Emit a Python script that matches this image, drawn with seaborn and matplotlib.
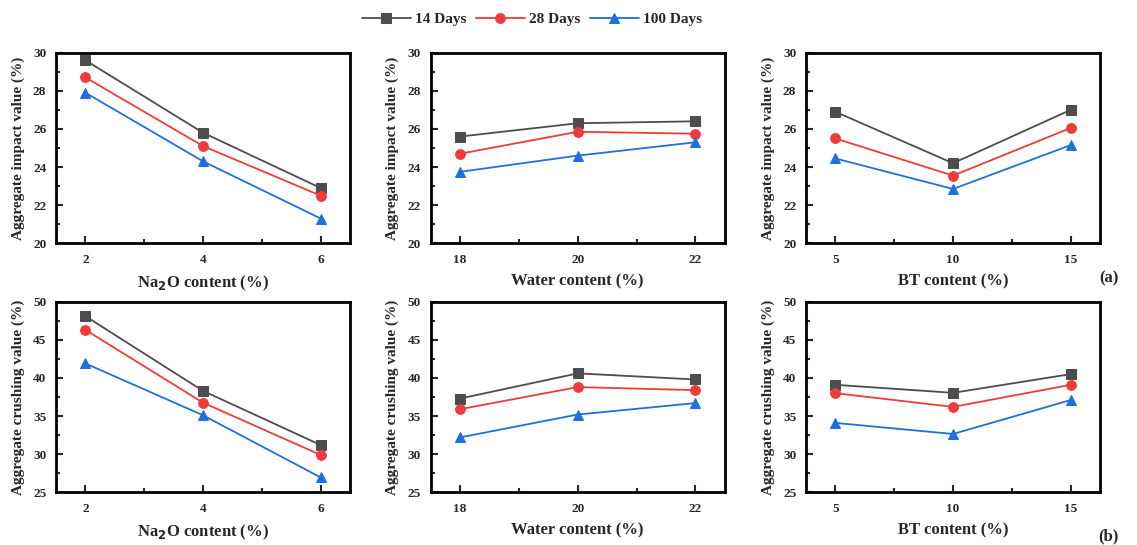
import matplotlib
matplotlib.use("Agg")
import matplotlib.pyplot as plt
from matplotlib.ticker import MultipleLocator
import pandas as pd
import seaborn as sns

# x values of the three factors
na2o = [2, 4, 6]
water = [18, 20, 22]
bt = [5, 10, 15]

# aggregate impact value (%)
impact_na2o_14 = [29.6, 25.8, 22.9]
impact_na2o_28 = [28.7, 25.1, 22.5]
impact_na2o_100 = [27.9, 24.3, 21.3]
impact_water_14 = [25.6, 26.3, 26.4]
impact_water_28 = [24.7, 25.85, 25.75]
impact_water_100 = [23.75, 24.6, 25.3]
impact_bt_14 = [26.9, 24.2, 27.0]
impact_bt_28 = [25.5, 23.55, 26.05]
impact_bt_100 = [24.45, 22.85, 25.15]

# aggregate crushing value (%)
crush_na2o_14 = [48.1, 38.3, 31.2]
crush_na2o_28 = [46.3, 36.75, 29.9]
crush_na2o_100 = [41.9, 35.1, 26.95]
crush_water_14 = [37.3, 40.6, 39.8]
crush_water_28 = [35.9, 38.8, 38.4]
crush_water_100 = [32.2, 35.2, 36.7]
crush_bt_14 = [39.1, 38.05, 40.5]
crush_bt_28 = [38.0, 36.2, 39.1]
crush_bt_100 = [34.1, 32.65, 37.1]

ages = ["14 Days", "28 Days", "100 Days"]
colors = ["#4d4d4d", "#ee3b3b", "#1f6fdc"]
markers = ["s", "o", "^"]

sns.set_theme(style="ticks")
plt.rcParams["font.family"] = ["Liberation Serif", "DejaVu Serif"]
plt.rcParams["font.weight"] = "bold"
plt.rcParams["axes.labelweight"] = "bold"

fig = plt.figure(figsize=(11.37, 5.45), dpi=100)

lefts = [0.0493, 0.3788, 0.7089]
bottoms = [0.5536, 0.0967]
w, h = 0.2586, 0.3497

panels = [
    (na2o, [impact_na2o_14, impact_na2o_28, impact_na2o_100], "Na$_2$O content (%)", 0),
    (water, [impact_water_14, impact_water_28, impact_water_100], "Water content (%)", 0),
    (bt, [impact_bt_14, impact_bt_28, impact_bt_100], "BT content (%)", 0),
    (na2o, [crush_na2o_14, crush_na2o_28, crush_na2o_100], "Na$_2$O content (%)", 1),
    (water, [crush_water_14, crush_water_28, crush_water_100], "Water content (%)", 1),
    (bt, [crush_bt_14, crush_bt_28, crush_bt_100], "BT content (%)", 1),
]

axes = []
for i, (xs, series, xlabel, row) in enumerate(panels):
    ax = fig.add_axes([lefts[i % 3], bottoms[row], w, h])
    axes.append(ax)
    for name, vals, c, m in zip(ages, series, colors, markers):
        df = pd.DataFrame({"x": xs, "y": vals})
        sns.lineplot(data=df, x="x", y="y", ax=ax, color=c, marker=m,
                     markersize=7, markeredgecolor=c, linewidth=1.3, label=name)
    step = xs[1] - xs[0]
    ax.set_xlim(xs[0] - step / 4, xs[-1] + step / 4)
    ax.set_xticks(xs)
    ax.xaxis.set_minor_locator(MultipleLocator(step / 2))
    if row == 0:
        ax.set_ylim(20, 30)
        ax.yaxis.set_major_locator(MultipleLocator(2))
        ax.yaxis.set_minor_locator(MultipleLocator(1))
        ax.set_ylabel("Aggregate impact value (%)", fontsize=11, labelpad=6)
    else:
        ax.set_ylim(25, 50)
        ax.yaxis.set_major_locator(MultipleLocator(5))
        ax.yaxis.set_minor_locator(MultipleLocator(2.5))
        ax.set_ylabel("Aggregate crushing value (%)", fontsize=11, labelpad=6)
    ax.set_xlabel(xlabel, fontsize=12, labelpad=5)
    ax.tick_params(which="both", direction="in", width=1.5, labelsize=9.5)
    ax.tick_params(axis="x", pad=8)
    ax.tick_params(axis="y", pad=7)
    ax.tick_params(which="major", length=5)
    ax.tick_params(which="minor", length=3)
    for sp in ax.spines.values():
        sp.set_linewidth(2)
        sp.set_color("black")
    ax.get_legend().remove()

handles, labels = axes[0].get_legend_handles_labels()
fig.legend(handles, labels, loc="center", bbox_to_anchor=(0.468, 0.965), ncol=3,
           frameon=False, fontsize=11, handlelength=3.2, columnspacing=0.6,
           handletextpad=0.3)

fig.text(0.975, 0.49, "(a)", fontsize=12, fontweight="bold", ha="center", va="center")
fig.text(0.975, 0.015, "(b)", fontsize=12, fontweight="bold", ha="center", va="center")

fig.savefig("out.png", dpi=100)
